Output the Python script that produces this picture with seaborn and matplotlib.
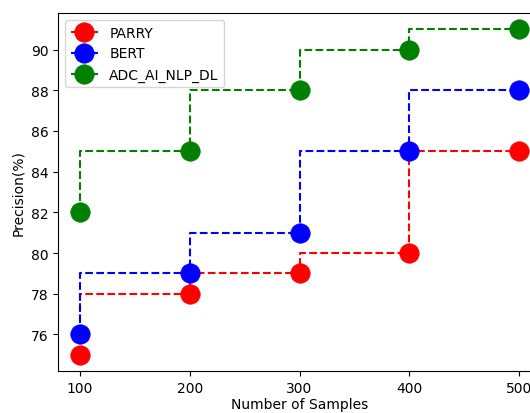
import matplotlib
matplotlib.use("Agg")
import matplotlib.pyplot as plt
import seaborn as sns
import pandas as pd

samples = [100, 200, 300, 400, 500]
parry = [75, 78, 79, 80, 85]
bert = [76, 79, 81, 85, 88]
adc = [82, 85, 88, 90, 91]
series_names = ["PARRY", "BERT", "ADC_AI_NLP_DL"]
colors = ["red", "blue", "green"]

fig = plt.figure(figsize=(5.3, 4.14), dpi=100)
ax = fig.add_axes([58/530, 1-372/414, 483/530, 358/414])

for name, vals, c in zip(series_names, [parry, bert, adc], colors):
    df = pd.DataFrame({"x": samples, "y": vals})
    sns.lineplot(data=df, x="x", y="y", ax=ax, color=c, linestyle="--",
                 marker="o", markersize=14, markeredgecolor=c,
                 markeredgewidth=0.5, drawstyle="steps-pre", label=name)

ax.set_xticks(samples)
ax.set_xlabel("Number of Samples", labelpad=2)
ax.set_ylabel("Precision(%)")
ax.legend(loc="upper left")
fig.savefig("out.png", dpi=100)
